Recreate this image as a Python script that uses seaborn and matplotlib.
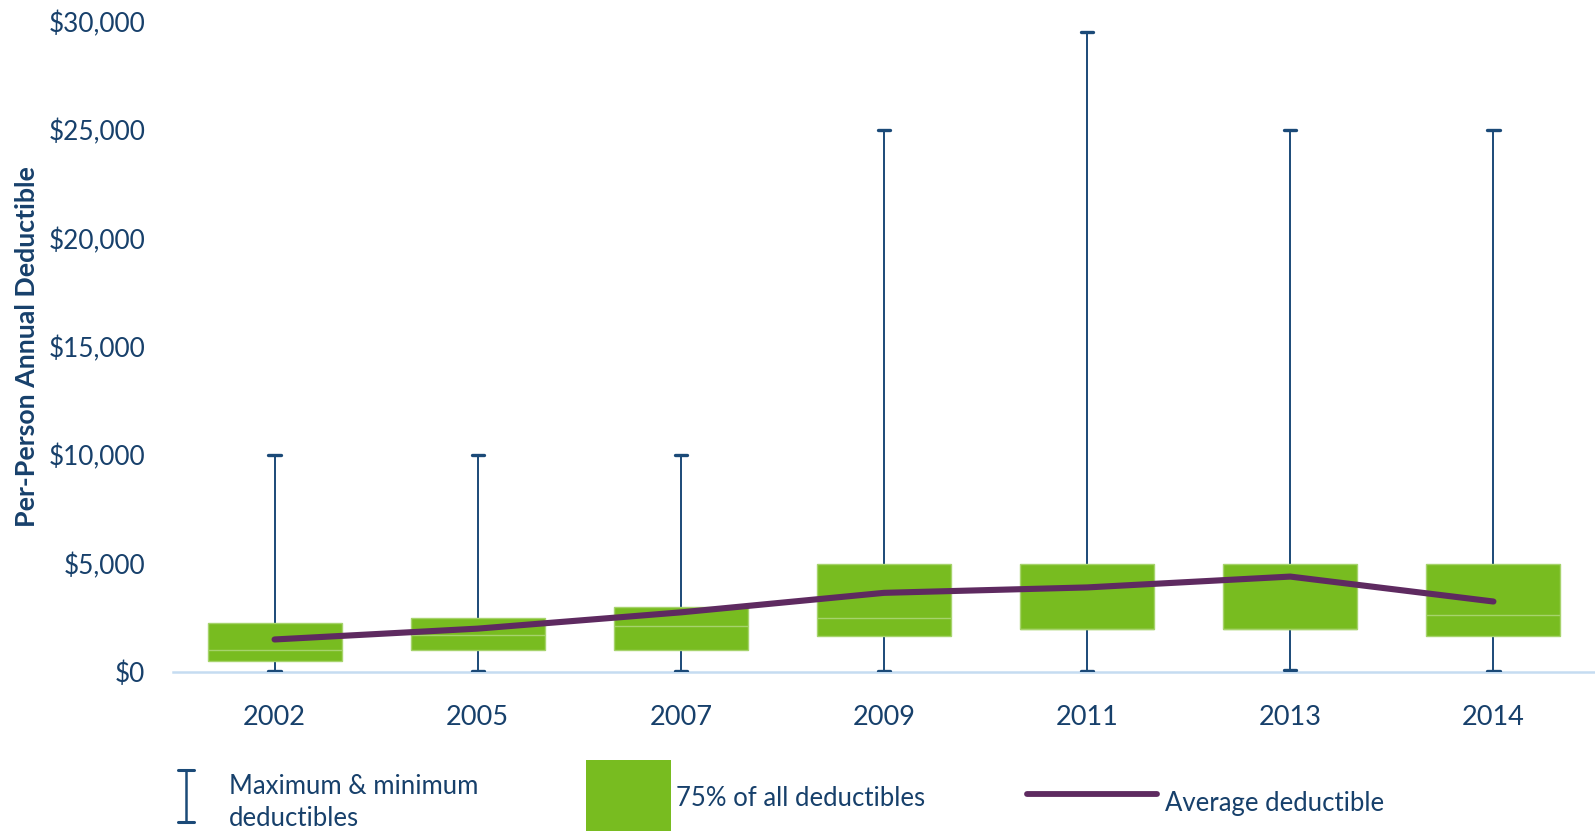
import matplotlib
matplotlib.use("Agg")
import matplotlib.pyplot as plt
from matplotlib.lines import Line2D
from matplotlib.patches import Rectangle
import seaborn as sns
import pandas as pd

# Per-person annual deductible by plan year
years = ["2002", "2005", "2007", "2009", "2011", "2013", "2014"]
minimum = [50, 50, 50, 60, 60, 100, 50]
maximum = [10000, 10000, 10000, 25000, 29500, 25000, 25000]
q_low = [500, 1000, 1000, 1650, 2000, 2000, 1650]      # lower edge of middle 75%
q_high = [2250, 2500, 3000, 5000, 5000, 5000, 5000]    # upper edge of middle 75%
median = [1000, 1700, 2100, 2500, 2000, 2000, 2650]
average = [1500, 2000, 2750, 3650, 3900, 4400, 3250]
yticks = [0, 5000, 10000, 15000, 20000, 25000, 30000]

NAVY = "#1B4A78"
TEXT = "#17406B"
GREEN = "#78BC20"
GREEN_EDGE = "#A6D36C"
PURPLE = "#5E2A60"
BASE = "#C5DCF1"

sns.set_theme(style="white")
plt.rcParams["font.family"] = ["Lato", "DejaVu Sans"]

fig = plt.figure(figsize=(15.95, 8.31), dpi=100)
ax = fig.add_axes([173 / 1595, 1 - 672 / 831, 1 - 173 / 1595, (672 - 21.4) / 831])

positions = list(range(len(years)))
stats = [
    dict(whislo=lo, q1=a, med=m, q3=b, whishi=hi, label=y)
    for y, lo, a, m, b, hi in zip(years, minimum, q_low, median, q_high, maximum)
]
ax.bxp(
    stats,
    positions=positions,
    widths=0.66,
    showfliers=False,
    patch_artist=True,
    boxprops=dict(facecolor=GREEN, edgecolor=GREEN_EDGE, linewidth=1.0, zorder=3),
    medianprops=dict(color=GREEN_EDGE, linewidth=1.0, zorder=4),
    whiskerprops=dict(color=NAVY, linewidth=1.4, zorder=2),
    capprops=dict(color=NAVY, linewidth=2.4, zorder=2),
    capwidths=0.06,
)

df = pd.DataFrame({"pos": positions, "average": average})
sns.lineplot(data=df, x="pos", y="average", ax=ax, color=PURPLE, linewidth=4.4,
             solid_capstyle="round", zorder=5)

ax.set_xlim(-0.5, len(years) - 0.5)
ax.set_ylim(0, 30000)
ax.set_xticks(positions)
ax.set_xticklabels(years)
ax.set_yticks(yticks)
ax.set_yticklabels([f"${v:,.0f}" for v in yticks])
ax.tick_params(axis="x", length=0, pad=23.5, labelsize=19.5, labelcolor=TEXT)
ax.tick_params(axis="y", length=0, pad=20, labelsize=18.8, labelcolor=TEXT)
ax.set_xlabel("")
ax.set_ylabel("Per-Person Annual Deductible", fontsize=19.3, fontweight="bold",
              color=TEXT)
ax.yaxis.set_label_coords(-0.094, 0.5)
for side in ["top", "right", "left"]:
    ax.spines[side].set_visible(False)
ax.spines["bottom"].set_color(BASE)
ax.spines["bottom"].set_linewidth(1.8)
ax.spines["bottom"].set_zorder(1)
ax.grid(False)

# Key along the bottom of the figure
W, H = 1595, 831
def fx(x):
    return x / W
def fy(y):
    return 1 - y / H

fig.add_artist(Line2D([fx(186), fx(186)], [fy(770), fy(822)], color=NAVY, lw=1.8))
fig.add_artist(Line2D([fx(178), fx(194)], [fy(770), fy(770)], color=NAVY, lw=2.2))
fig.add_artist(Line2D([fx(178), fx(194)], [fy(822), fy(822)], color=NAVY, lw=2.2))
fig.text(fx(229), fy(787), "Maximum & minimum", fontsize=18.5, color=TEXT, va="center", ha="left")
fig.text(fx(229), fy(819), "deductibles", fontsize=18.5, color=TEXT, va="center", ha="left")

fig.add_artist(Rectangle((fx(586), fy(831)), fx(85), 71 / H, facecolor=GREEN, edgecolor="none"))
fig.text(fx(676), fy(798), "75% of all deductibles", fontsize=18.5, color=TEXT, va="center", ha="left")

fig.add_artist(Line2D([fx(1027), fx(1157)], [fy(794), fy(794)], color=PURPLE, lw=4.2))
fig.text(fx(1165), fy(803), "Average deductible", fontsize=18.5, color=TEXT, va="center", ha="left")

fig.savefig("out.png", dpi=100, facecolor="white")
